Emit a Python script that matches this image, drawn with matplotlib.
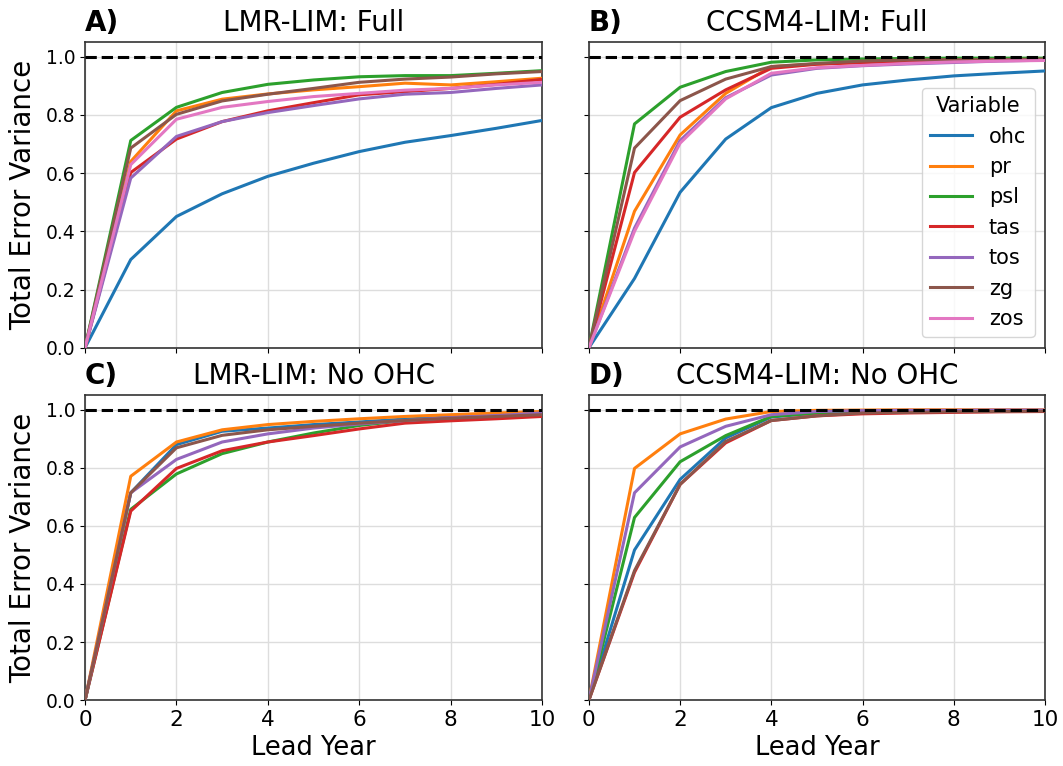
import matplotlib
matplotlib.use("Agg")
import matplotlib.pyplot as plt
import numpy as np

lead_years = [0, 1, 2, 3, 4, 5, 6, 7, 8, 9, 10]
variables = ["ohc", "pr", "psl", "tas", "tos", "zg", "zos"]
colors = {"ohc": "#1f77b4", "pr": "#ff7f0e", "psl": "#2ca02c", "tas": "#d62728",
          "tos": "#9467bd", "zg": "#8c564b", "zos": "#e377c2"}

# Panel A: LMR-LIM Full
lmr_full = {
    "ohc": [0, 0.303, 0.451, 0.529, 0.589, 0.634, 0.674, 0.706, 0.729, 0.754, 0.781],
    "pr":  [0, 0.640, 0.814, 0.854, 0.872, 0.886, 0.897, 0.909, 0.903, 0.914, 0.926],
    "psl": [0, 0.712, 0.826, 0.877, 0.905, 0.920, 0.931, 0.935, 0.935, 0.943, 0.952],
    "tas": [0, 0.602, 0.717, 0.777, 0.814, 0.842, 0.869, 0.880, 0.891, 0.905, 0.922],
    "tos": [0, 0.583, 0.726, 0.777, 0.808, 0.832, 0.855, 0.871, 0.877, 0.891, 0.903],
    "zg":  [0, 0.686, 0.802, 0.848, 0.871, 0.891, 0.912, 0.923, 0.930, 0.941, 0.949],
    "zos": [0, 0.629, 0.785, 0.826, 0.846, 0.863, 0.874, 0.885, 0.891, 0.903, 0.912],
}
# Panel B: CCSM4-LIM Full
ccsm_full = {
    "ohc": [0, 0.238, 0.534, 0.717, 0.825, 0.874, 0.903, 0.920, 0.934, 0.943, 0.951],
    "pr":  [0, 0.469, 0.731, 0.874, 0.966, 0.975, 0.980, 0.985, 0.988, 0.990, 0.990],
    "psl": [0, 0.769, 0.895, 0.949, 0.981, 0.989, 0.992, 0.994, 0.995, 0.995, 0.995],
    "tas": [0, 0.602, 0.792, 0.886, 0.960, 0.974, 0.980, 0.984, 0.987, 0.988, 0.990],
    "tos": [0, 0.411, 0.712, 0.859, 0.937, 0.960, 0.969, 0.975, 0.980, 0.985, 0.988],
    "zg":  [0, 0.686, 0.849, 0.923, 0.966, 0.977, 0.985, 0.989, 0.990, 0.990, 0.992],
    "zos": [0, 0.400, 0.703, 0.855, 0.943, 0.962, 0.970, 0.977, 0.982, 0.985, 0.987],
}
# Panel C: LMR-LIM No OHC
lmr_noohc = {
    "ohc": [0, 0.714, 0.880, 0.926, 0.937, 0.949, 0.958, 0.968, 0.975, 0.980, 0.989],
    "pr":  [0, 0.771, 0.889, 0.931, 0.949, 0.960, 0.969, 0.977, 0.983, 0.989, 0.994],
    "psl": [0, 0.657, 0.779, 0.849, 0.889, 0.920, 0.946, 0.963, 0.969, 0.975, 0.983],
    "tas": [0, 0.651, 0.798, 0.859, 0.889, 0.911, 0.934, 0.954, 0.962, 0.969, 0.977],
    "tos": [0, 0.714, 0.829, 0.889, 0.917, 0.937, 0.951, 0.963, 0.973, 0.980, 0.989],
    "zg":  [0, 0.714, 0.869, 0.912, 0.931, 0.943, 0.954, 0.963, 0.971, 0.977, 0.983],
}
# Panel D: CCSM4-LIM No OHC
ccsm_noohc = {
    "ohc": [0, 0.517, 0.760, 0.903, 0.975, 0.989, 0.993, 0.995, 0.996, 0.997, 0.997],
    "pr":  [0, 0.798, 0.917, 0.968, 0.994, 0.998, 0.999, 1.000, 1.000, 1.000, 1.000],
    "psl": [0, 0.629, 0.821, 0.911, 0.977, 0.989, 0.993, 0.995, 0.996, 0.997, 0.997],
    "tas": [0, 0.440, 0.743, 0.886, 0.963, 0.979, 0.986, 0.989, 0.991, 0.993, 0.994],
    "tos": [0, 0.714, 0.872, 0.943, 0.983, 0.994, 0.997, 0.998, 0.998, 0.999, 0.999],
    "zg":  [0, 0.446, 0.743, 0.891, 0.963, 0.979, 0.989, 0.991, 0.993, 0.994, 0.995],
}

panels = [
    ("A)", "LMR-LIM: Full", lmr_full),
    ("B)", "CCSM4-LIM: Full", ccsm_full),
    ("C)", "LMR-LIM: No OHC", lmr_noohc),
    ("D)", "CCSM4-LIM: No OHC", ccsm_noohc),
]

fig = plt.figure(figsize=(10.63, 7.66), dpi=100)
positions = [
    [0.080, 0.546, 0.430, 0.399],
    [0.554, 0.546, 0.429, 0.399],
    [0.080, 0.086, 0.430, 0.398],
    [0.554, 0.086, 0.429, 0.398],
]

for i, (lab, title, data) in enumerate(panels):
    ax = fig.add_axes(positions[i])
    ax.grid(True, color="#dddddd", linewidth=1.0, zorder=0)
    ax.set_axisbelow(True)
    for v in variables:
        if v in data:
            ax.plot(lead_years, data[v], color=colors[v], lw=2.2, label=v, zorder=3)
    ax.axhline(1.0, color="black", ls="--", lw=2.2, zorder=4)
    ax.set_xlim(0, 10)
    ax.set_ylim(0, 1.05)
    ax.set_xticks([0, 2, 4, 6, 8, 10])
    ax.set_yticks([0.0, 0.2, 0.4, 0.6, 0.8, 1.0])
    ax.tick_params(axis="x", labelsize=15.5)
    ax.tick_params(axis="y", labelsize=13.5)
    for s in ax.spines.values():
        s.set_color("#333333")
        s.set_linewidth(1.2)
    ax.set_title(title, fontsize=20, pad=8)
    ax.set_title(lab, loc="left", fontsize=20, fontweight="bold", pad=8)
    if i in (0, 1):
        ax.set_xticklabels([])
    else:
        ax.set_xlabel("Lead Year", fontsize=18.5)
    if i in (1, 3):
        ax.set_yticklabels([])
    else:
        ax.set_ylabel("Total Error Variance", fontsize=20, labelpad=6)
    if i == 1:
        leg = ax.legend(title="Variable", loc="lower right", fontsize=15,
                        title_fontsize=15, framealpha=0.8)

fig.savefig("out.png", dpi=100)
